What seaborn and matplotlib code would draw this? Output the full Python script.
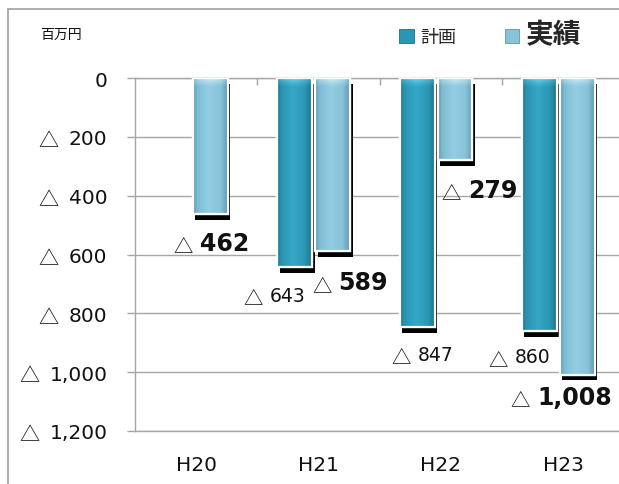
import numpy as np
import pandas as pd
import matplotlib
matplotlib.use("Agg")
import matplotlib.pyplot as plt
import seaborn as sns
from matplotlib.patches import Rectangle, Patch
from matplotlib.ticker import FuncFormatter, FixedLocator
from matplotlib.colors import LinearSegmentedColormap
import matplotlib.patheffects as pe

# ---- data (百万円, losses shown as negative values) ----
years = ["H20", "H21", "H22", "H23"]
plan = [np.nan, -643, -847, -860]
actual = [-462, -589, -279, -1008]
series_names = ["計画", "実績"]
y_ticks = [0, -200, -400, -600, -800, -1000, -1200]

sns.set_theme(style="white")
plt.rcParams["font.family"] = ["DejaVu Sans", "Noto Sans CJK JP"]
TRI_FONT = ["Noto Sans CJK JP", "DejaVu Sans"]

df = pd.DataFrame({
    "year": years * 2,
    "value": plan + actual,
    "series": [series_names[0]] * 4 + [series_names[1]] * 4,
})

fig = plt.figure(figsize=(6.19, 4.85), dpi=100)
ax = fig.add_axes([135 / 619, 53 / 485, 489.5 / 619, 353 / 485])

base_cols = {"計画": "#2f9fbf", "実績": "#8cc8df"}
sns.barplot(data=df, x="year", y="value", hue="series", order=years,
            hue_order=series_names, palette=base_cols, width=0.62, gap=0.08,
            dodge=True, legend=False, ax=ax, errorbar=None, saturation=1)

ax.set_xlim(-0.5, 3.5)
ax.set_ylim(-1200, 0)

# horizontal shading profiles for the cylinder-like bars
profiles = {
    "計画": LinearSegmentedColormap.from_list("p", [
        (0.0, "#1f7893"), (0.12, "#2a93b1"), (0.45, "#34a8c6"),
        (0.8, "#2c97b5"), (0.94, "#237f9a"), (1.0, "#1b6a81")]),
    "実績": LinearSegmentedColormap.from_list("a", [
        (0.0, "#5d9bb2"), (0.12, "#7fbcd3"), (0.45, "#93cde3"),
        (0.8, "#87c2d9"), (0.94, "#6aa7bf"), (1.0, "#55899d")]),
}
tops = {"計画": "#66d6f2", "実績": "#d0f0f8"}

grad = np.linspace(0, 1, 64)[None, :]
bar_info = []
for k, (cont, name) in enumerate(zip(ax.containers, series_names)):
    for p in cont.patches:
        h = p.get_height()
        if not np.isfinite(h) or h == 0:
            continue
        p.set_x(p.get_x() - 0.04)
        x0, w = p.get_x(), p.get_width()
        p.set_edgecolor("white")
        p.set_linewidth(1.6)
        p.set_zorder(3 + 2 * k)
        p.set_path_effects([pe.SimplePatchShadow(offset=(1.8, -4.2),
                                                 shadow_rgbFace="black",
                                                 alpha=1.0), pe.Normal()])
        im = ax.imshow(grad, cmap=profiles[name], aspect="auto",
                       extent=(x0, x0 + w, h, 0), zorder=3.1 + 2 * k,
                       interpolation="bicubic")
        im.set_clip_path(p)
        # light bevel at the top of each bar
        band = np.zeros((16, 64, 4))
        band[..., :3] = matplotlib.colors.to_rgb(tops[name])
        fade = np.linspace(1, 0, 16)[:, None] * (1 - 0.6 * np.abs(grad - 0.5) * 2)
        band[..., 3] = 0.9 * fade
        im2 = ax.imshow(band, aspect="auto", extent=(x0, x0 + w, -30, 0),
                        zorder=3.2 + 2 * k, interpolation="bilinear")
        im2.set_clip_path(p)
        outline = Rectangle((x0, 0), w, h, facecolor="none",
                            edgecolor="white", linewidth=1.6,
                            zorder=3.3 + 2 * k)
        ax.add_patch(outline)
        bar_info.append((name, int(round(p.get_x() + w / 2 + 0.04)),
                         x0 + w / 2, h))

ax.set_xlim(-0.5, 3.5)
ax.set_ylim(-1200, 0)

# axes styling
grid_c = "#a6a6a6"
ax.spines["right"].set_visible(False)
for s in ["left", "top", "bottom"]:
    ax.spines[s].set_color(grid_c)
    ax.spines[s].set_linewidth(1.0)
ax.yaxis.set_major_locator(FixedLocator(y_ticks))
ax.yaxis.set_major_formatter(FuncFormatter(
    lambda v, pos: "{:,}".format(int(round(-v)))))
ax.grid(axis="y", color=grid_c, linewidth=1.0, zorder=0)
ax.set_axisbelow(True)
ax.tick_params(axis="y", left=True, length=5.8, width=1.0, color=grid_c,
               pad=14, labelsize=14.5, labelcolor="#111111")
ax.tick_params(axis="x", which="major", bottom=False, top=False,
               length=0, pad=17, labelsize=14.5, labelcolor="#111111")
ax.xaxis.set_minor_locator(FixedLocator([0.5, 1.5, 2.5, 3.5]))
ax.tick_params(axis="x", which="minor", top=True, bottom=False,
               direction="in", length=5, width=1.0, color=grid_c)
ax.set_xlabel("")
ax.set_ylabel("")

# value labels (triangle marks a loss)
label_offsets = {
    ("実績", 0): (-14, -29), ("計画", 1): (-29, -28), ("実績", 1): (2, -31),
    ("計画", 2): (-3, -27), ("実績", 2): (9, -30), ("計画", 3): (-29, -26),
    ("実績", 3): (-44, -22),
}
for name, cat, xc, h in bar_info:
    dx, dy = label_offsets[(name, cat)]
    bold = name == "実績"
    ax.annotate("△", xy=(xc, h), xytext=(dx - 3, dy - 3), textcoords="offset pixels",
                ha="right", va="center", fontsize=14, color="#111111",
                family=TRI_FONT, zorder=10, annotation_clip=False)
    ax.annotate("{:,}".format(int(round(-h))), xy=(xc, h), xytext=(dx + 4, dy),
                textcoords="offset pixels", ha="left", va="center",
                fontsize=17 if bold else 13.5,
                fontweight="bold" if bold else "normal", color="#111111",
                zorder=10, annotation_clip=False)

# unit label and legend
fig.text(40 / 619, 1 - 35 / 485, "百万円", fontsize=10, va="center",
         ha="left", color="#111111")
handles = [Patch(facecolor="#2a96b5", edgecolor="#1d6f87", linewidth=0.6),
           Patch(facecolor="#88c3d8", edgecolor="#5d97ab", linewidth=0.6)]
leg = fig.legend(handles, series_names, loc="center left",
                 bbox_to_anchor=(383 / 619, 1 - 35 / 485), ncol=2,
                 frameon=False, handlelength=0.8, handleheight=0.8,
                 handletextpad=0.35, columnspacing=2.7, fontsize=13)
leg.get_texts()[1].set_fontsize(20)
leg.get_texts()[1].set_fontweight("bold")

# outer frame
fig.add_artist(Rectangle((8 / 619, -0.2), 1.2, 1 - 10 / 485 + 0.2,
                         transform=fig.transFigure, facecolor="none",
                         edgecolor="#a0a0a0", linewidth=1.2))

# loss marks in front of the negative y tick labels
fig.canvas.draw()
renderer = fig.canvas.get_renderer()
inv = fig.transFigure.inverted()
for val, lab in zip(ax.get_yticks(), ax.get_yticklabels()):
    if val >= 0 or not lab.get_visible():
        continue
    bb = lab.get_window_extent(renderer)
    fx, fy = inv.transform(((bb.x0 - 10), (bb.y0 + bb.y1) / 2 - 2))
    fig.text(fx, fy, "△", ha="right", va="center", fontsize=14.5,
             family=TRI_FONT, color="#111111")

fig.savefig("out.png", dpi=100)
